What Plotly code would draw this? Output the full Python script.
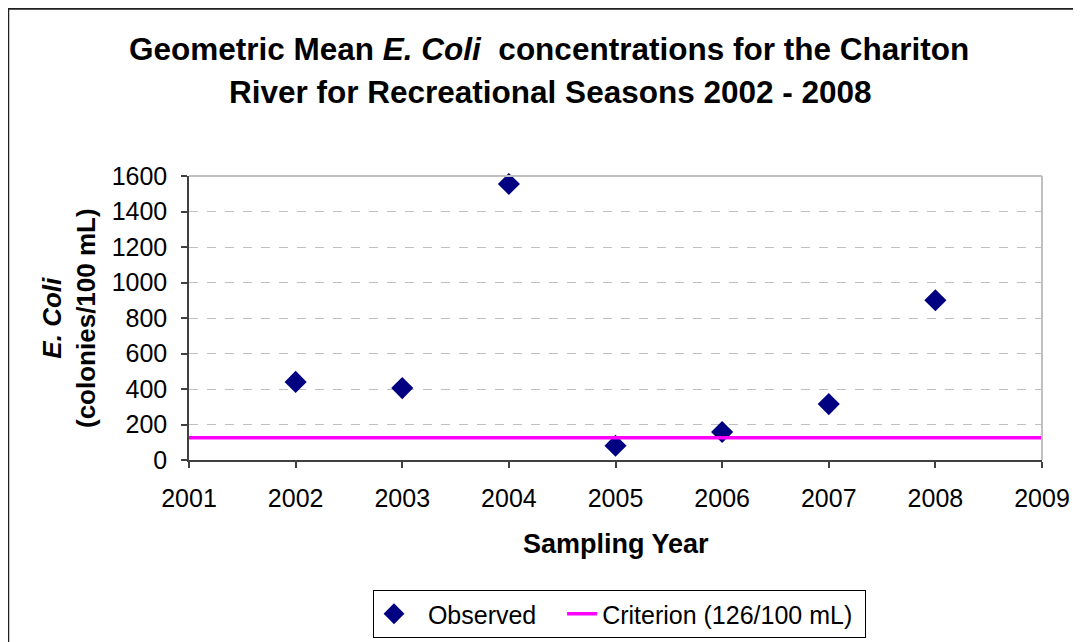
import plotly.graph_objects as go

years = [2002, 2003, 2004, 2005, 2006, 2007, 2008]
observed = [440, 405, 1555, 80, 158, 315, 900]
criterion_years = [2001, 2002, 2003, 2004, 2005, 2006, 2007, 2008, 2009]
criterion_values = [126] * len(criterion_years)
x_ticks = [2001, 2002, 2003, 2004, 2005, 2006, 2007, 2008, 2009]
y_ticks = [0, 200, 400, 600, 800, 1000, 1200, 1400, 1600]

FONT = "Liberation Sans, Arial, sans-serif"
NB = "\u00a0"

fig = go.Figure()
fig.add_trace(go.Scatter(
    x=years, y=observed, mode="markers", name=NB * 2 + "Observed" + NB * 3,
    marker=dict(symbol="diamond", size=17, color="#000080",
                line=dict(width=0)),
    cliponaxis=False,
))
fig.add_trace(go.Scatter(
    x=criterion_years, y=criterion_values, mode="lines",
    name="Criterion (126/100 mL)" + NB,
    line=dict(color="#FF00FF", width=3.5),
))

# page has an 8px body margin; work in screen pixels
OFF = 8
W, H = 1081 - OFF, 642 - OFF
SL, SR, ST, SB = 189, 1042, 176, 460          # plot area in screen px
L, T = SL - OFF, ST - OFF
R, B = W - (SR - OFF), H - (SB - OFF)
pw, ph = SR - SL, SB - ST

def px(sx):
    return (sx - SL) / pw

def py(sy):
    return (SB - sy) / ph

fig.update_layout(
    width=W, height=H,
    margin=dict(l=L, r=R, t=T, b=B, pad=0, autoexpand=False),
    paper_bgcolor="white", plot_bgcolor="white",
    font=dict(family=FONT, color="black", size=25),
    showlegend=True,
    legend=dict(
        orientation="h", x=px(619.5), xanchor="center", y=py(590), yanchor="top",
        bordercolor="black", borderwidth=1, bgcolor="white",
        font=dict(size=25, family=FONT),
        tracegroupgap=0,
    ),
    xaxis=dict(
        range=[2001, 2009], tickvals=x_ticks, ticktext=[str(v) for v in x_ticks],
        showgrid=False, zeroline=False,
        showline=True, linecolor="#404040", linewidth=1.5,
        ticks="outside", ticklen=6, tickcolor="#404040", tickwidth=1.5,
        tickfont=dict(size=25, family=FONT),
        ticklabelstandoff=9, automargin=False,
    ),
    yaxis=dict(
        range=[0, 1600], tickvals=y_ticks,
        showgrid=True, gridcolor="#C0C0C0", griddash="dash", gridwidth=1,
        zeroline=False,
        showline=True, linecolor="#404040", linewidth=1.5,
        ticks="outside", ticklen=6, tickcolor="#404040", tickwidth=1.5,
        tickfont=dict(size=25, family=FONT),
        ticklabelstandoff=9, automargin=False,
    ),
    shapes=[
        dict(type="line", xref="paper", yref="paper", x0=0, x1=1, y0=1, y1=1,
             line=dict(color="#C0C0C0", width=2)),
        dict(type="line", xref="paper", yref="paper", x0=1, x1=1, y0=0, y1=1,
             line=dict(color="#C0C0C0", width=2)),
        # outer chart border (left and top edges visible)
        dict(type="rect", xref="paper", yref="paper",
             x0=px(8.0), x1=px(1200), y0=py(8.6), y1=py(800),
             line=dict(color="#202020", width=2.5), layer="below"),
    ],
    annotations=[
        dict(text="<b>Geometric Mean <i>E. Coli</i>  concentrations for the Chariton</b>",
             x=px(549), y=py(49), xref="paper", yref="paper",
             xanchor="center", yanchor="middle", showarrow=False,
             font=dict(size=31.5, family=FONT)),
        dict(text="<b>River for Recreational Seasons 2002 - 2008</b>",
             x=px(550), y=py(92), xref="paper", yref="paper",
             xanchor="center", yanchor="middle", showarrow=False,
             font=dict(size=31.5, family=FONT)),
        dict(text="<b>Sampling Year</b>",
             x=px(616), y=py(544), xref="paper", yref="paper",
             xanchor="center", yanchor="middle", showarrow=False,
             font=dict(size=27, family=FONT)),
        dict(text="<b><i>E. Coli</i></b><br><b>(colonies/100 mL)</b>",
             x=px(69), y=py(318), xref="paper", yref="paper",
             xanchor="center", yanchor="middle", showarrow=False,
             textangle=-90,
             font=dict(size=26, family=FONT)),
    ],
)

fig.write_html("out.html")
